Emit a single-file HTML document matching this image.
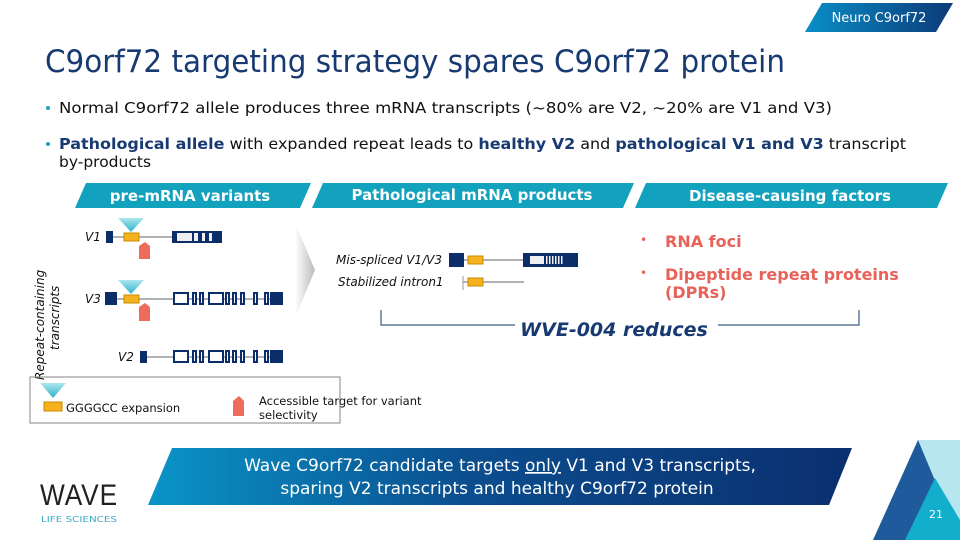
<!DOCTYPE html>
<html><head><meta charset="utf-8"><style>
html,body{margin:0;padding:0;background:#fff;}
svg{display:block;font-family:"DejaVu Sans","Liberation Sans",sans-serif;}
</style></head><body>
<svg width="960" height="540" viewBox="0 0 960 540" xmlns="http://www.w3.org/2000/svg">
<defs>
<linearGradient id="tg" x1="0" x2="1" y1="0" y2="0"><stop offset="0" stop-color="#0a8ec6"/><stop offset="1" stop-color="#0b3a78"/></linearGradient>
<linearGradient id="bg" x1="0" x2="1" y1="0" y2="0"><stop offset="0" stop-color="#0a95c8"/><stop offset="0.45" stop-color="#0b4e8e"/><stop offset="1" stop-color="#0b2f70"/></linearGradient>
<linearGradient id="cone" x1="0" x2="0" y1="0" y2="1"><stop offset="0" stop-color="#aee6ee"/><stop offset="1" stop-color="#2bb4cc"/></linearGradient>
<linearGradient id="arr" x1="0" x2="1"><stop offset="0" stop-color="#fff"/><stop offset="1" stop-color="#bbb"/></linearGradient>
</defs>
<!-- top tag -->
<polygon points="822,3 953,3 936,32 805,32" fill="url(#tg)"/>
<text x="879" y="22" font-size="13" fill="#fff" text-anchor="middle">Neuro C9orf72</text>
<!-- title -->
<text x="45" y="72" font-size="31" fill="#183a72" textLength="740" lengthAdjust="spacingAndGlyphs">C9orf72 targeting strategy spares C9orf72 protein</text>
<!-- bullets -->
<circle cx="48" cy="108" r="2" fill="#1aa5c0"/>
<text x="59" y="113" font-size="15.5" fill="#111" textLength="773" lengthAdjust="spacingAndGlyphs">Normal C9orf72 allele produces three mRNA transcripts (~80% are V2, ~20% are V1 and V3)</text>
<circle cx="48" cy="144" r="2" fill="#1aa5c0"/>
<text x="59" y="149" font-size="15.5" fill="#111" textLength="847" lengthAdjust="spacingAndGlyphs"><tspan font-weight="bold" fill="#183a72">Pathological allele</tspan> with expanded repeat leads to <tspan font-weight="bold" fill="#183a72">healthy V2</tspan> and <tspan font-weight="bold" fill="#183a72">pathological V1 and V3</tspan> transcript</text>
<text x="59" y="167" font-size="15.5" fill="#111">by-products</text>
<!-- headers -->
<polygon points="86,183 311,183 300,208 75,208" fill="#12a2bd"/>
<text x="190" y="201" font-size="15" font-weight="bold" fill="#fff" text-anchor="middle">pre-mRNA variants</text>
<polygon points="323,183 634,183 623,208 312,208" fill="#12a2bd"/>
<text x="472" y="200" font-size="15" font-weight="bold" fill="#fff" text-anchor="middle">Pathological mRNA products</text>
<polygon points="646,183 948,183 937,208 635,208" fill="#12a2bd"/>
<text x="790" y="201" font-size="15" font-weight="bold" fill="#fff" text-anchor="middle">Disease-causing factors</text>
<!-- vertical label -->
<text transform="translate(44,380) rotate(-90)" font-size="12" font-style="italic" fill="#111">Repeat-containing</text>
<text transform="translate(59,350) rotate(-90)" font-size="12" font-style="italic" fill="#111">transcripts</text>
<!-- arrow chevron -->
<polygon points="295,223 315,270 295,318" fill="url(#arr)"/>
<!-- V1 -->
<text x="85" y="241" font-size="12" font-style="italic" fill="#111">V1</text>
<line x1="112" y1="237" x2="222" y2="237" stroke="#999" stroke-width="1.5"/>
<rect x="106" y="231" width="7" height="12" fill="#0b2e6a"/>
<polygon points="118,218 144,218 131,232" fill="url(#cone)"/>
<rect x="124" y="233" width="15" height="8" fill="#f5b21c" stroke="#c98a00"/>
<polygon points="139,246 145,242 150,246 150,259 139,259" fill="#ef6b5c"/>
<rect x="172" y="231" width="50" height="12" fill="#0b2e6a"/>
<rect x="177" y="233" width="15" height="8" fill="#eee"/>
<rect x="194" y="233" width="4" height="8" fill="#eee"/><rect x="202" y="233" width="3" height="8" fill="#eee"/><rect x="209" y="233" width="3" height="8" fill="#eee"/>
<!-- V3 -->
<text x="85" y="303" font-size="12" font-style="italic" fill="#111">V3</text>
<line x1="112" y1="299" x2="282" y2="299" stroke="#999" stroke-width="1.5"/>
<rect x="105" y="292" width="12" height="13" fill="#0b2e6a"/>
<polygon points="118,280 144,280 131,294" fill="url(#cone)"/>
<rect x="124" y="295" width="15" height="8" fill="#f5b21c" stroke="#c98a00"/>
<polygon points="139,307 145,303 150,307 150,321 139,321" fill="#ef6b5c"/>
<g fill="#fff" stroke="#0b2e6a" stroke-width="2">
<rect x="174" y="293" width="14" height="11"/><rect x="193" y="293" width="3" height="11"/><rect x="200" y="293" width="3" height="11"/><rect x="209" y="293" width="14" height="11"/><rect x="226" y="293" width="3" height="11"/><rect x="233" y="293" width="3" height="11"/><rect x="241" y="293" width="3" height="11"/><rect x="254" y="293" width="3" height="11"/><rect x="265" y="293" width="3" height="11"/>
</g>
<rect x="270" y="292" width="13" height="13" fill="#0b2e6a"/>
<!-- V2 -->
<text x="118" y="361" font-size="12" font-style="italic" fill="#111">V2</text>
<line x1="145" y1="357" x2="282" y2="357" stroke="#999" stroke-width="1.5"/>
<rect x="140" y="351" width="7" height="12" fill="#0b2e6a"/>
<g fill="#fff" stroke="#0b2e6a" stroke-width="2">
<rect x="174" y="351" width="14" height="11"/><rect x="193" y="351" width="3" height="11"/><rect x="200" y="351" width="3" height="11"/><rect x="209" y="351" width="14" height="11"/><rect x="226" y="351" width="3" height="11"/><rect x="233" y="351" width="3" height="11"/><rect x="241" y="351" width="3" height="11"/><rect x="254" y="351" width="3" height="11"/><rect x="265" y="351" width="3" height="11"/>
</g>
<rect x="270" y="350" width="13" height="13" fill="#0b2e6a"/>
<!-- middle -->
<text x="336" y="264" font-size="12" font-style="italic" fill="#111">Mis-spliced V1/V3</text>
<line x1="462" y1="260" x2="525" y2="260" stroke="#999" stroke-width="1.5"/>
<rect x="449" y="253" width="15" height="14" fill="#0b2e6a"/>
<rect x="468" y="256" width="15" height="8" fill="#f5b21c" stroke="#c98a00"/>
<rect x="523" y="253" width="55" height="14" fill="#0b2e6a"/>
<rect x="530" y="256" width="14" height="8" fill="#eee"/>
<g fill="#eee"><rect x="546" y="256" width="1.5" height="8"/><rect x="549" y="256" width="1.5" height="8"/><rect x="552" y="256" width="1.5" height="8"/><rect x="555" y="256" width="1.5" height="8"/><rect x="558" y="256" width="1.5" height="8"/><rect x="561" y="256" width="1.5" height="8"/></g>
<text x="338" y="286" font-size="12" font-style="italic" fill="#111">Stabilized intron1</text>
<line x1="463" y1="276" x2="463" y2="290" stroke="#999"/>
<line x1="463" y1="282" x2="524" y2="282" stroke="#999" stroke-width="1.5"/>
<rect x="468" y="278" width="15" height="8" fill="#f5b21c" stroke="#c98a00"/>
<!-- bracket -->
<polyline points="381,310 381,325 515,325" fill="none" stroke="#3a5a80" stroke-width="1.2"/>
<polyline points="859,310 859,325 718,325" fill="none" stroke="#3a5a80" stroke-width="1.2"/>
<text x="614" y="336" font-size="19" font-weight="bold" font-style="italic" fill="#183a72" text-anchor="middle">WVE-004 reduces</text>
<!-- right list -->
<text x="640" y="244" font-size="12" fill="#e8625a">•</text>
<text x="665" y="247" font-size="16" font-weight="bold" fill="#e8625a">RNA foci</text>
<text x="640" y="277" font-size="12" fill="#e8625a">•</text>
<text x="665" y="280" font-size="16" font-weight="bold" fill="#e8625a">Dipeptide repeat proteins</text>
<text x="665" y="298" font-size="16" font-weight="bold" fill="#e8625a">(DPRs)</text>
<!-- legend -->
<rect x="30" y="377" width="310" height="46" fill="none" stroke="#999" stroke-width="1.2"/>
<polygon points="40,383 66,383 53,398" fill="url(#cone)"/>
<rect x="44" y="402" width="18" height="9" fill="#f5b21c" stroke="#c98a00"/>
<text x="66" y="412" font-size="11.5" fill="#111">GGGGCC expansion</text>
<polygon points="233,401 239,396 244,401 244,416 233,416" fill="#ef6b5c"/>
<text x="259" y="405" font-size="11.5" fill="#111">Accessible target for variant</text>
<text x="259" y="419" font-size="11.5" fill="#111">selectivity</text>
<!-- banner -->
<polygon points="172,448 852,448 829,505 148,505" fill="url(#bg)"/>
<text x="500" y="471" font-size="17" fill="#fff" text-anchor="middle">Wave C9orf72 candidate targets <tspan text-decoration="underline">only</tspan> V1 and V3 transcripts,</text>
<text x="497" y="494" font-size="17" fill="#fff" text-anchor="middle">sparing V2 transcripts and healthy C9orf72 protein</text>
<!-- logo -->
<text x="40" y="505" font-size="30" fill="#222" letter-spacing="1" textLength="78" lengthAdjust="spacingAndGlyphs" font-family="Liberation Sans, sans-serif">WAVE</text>
<text x="41" y="522" font-size="8" fill="#3aa9c7" textLength="76" lengthAdjust="spacingAndGlyphs">LIFE SCIENCES</text>
<!-- corner triangles -->
<polygon points="918,440 960,440 960,540" fill="#b7e6ee"/>
<polygon points="918,440 873,540 960,540" fill="#1f5b9c"/>
<polygon points="935,478 905,540 960,540 960,520" fill="#13aecb"/>
<text x="936" y="518" font-size="11" fill="#fff" text-anchor="middle">21</text>
</svg>
</body></html>
